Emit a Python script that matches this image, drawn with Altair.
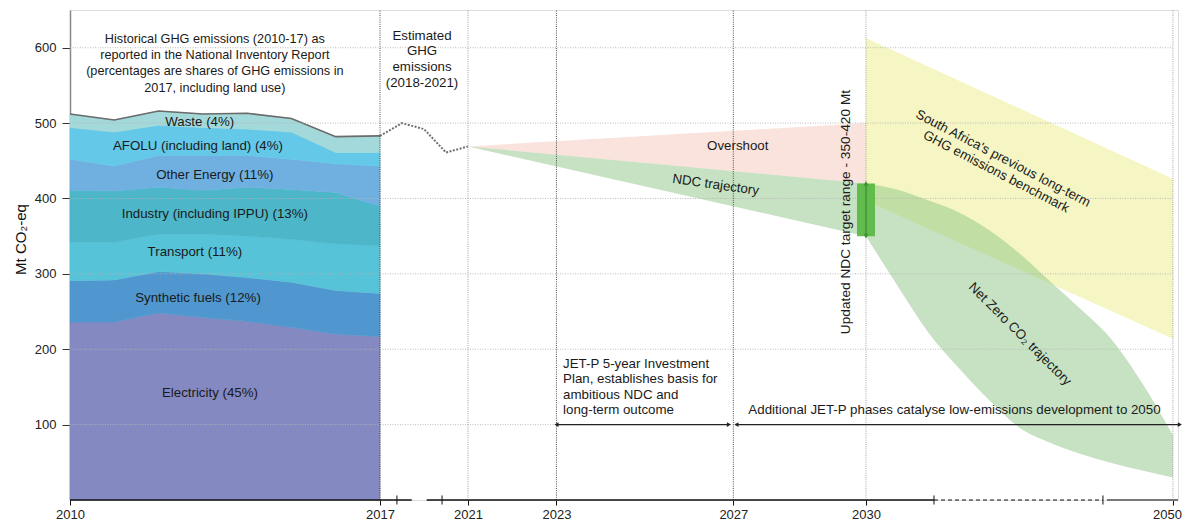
import altair as alt
import pandas as pd

# ---------------- data ----------------
hist_years = [2010, 2011, 2012, 2013, 2014, 2015, 2016, 2017]
sector_names = ["Electricity", "Synthetic fuels", "Transport", "Industry",
                "Other Energy", "AFOLU", "Waste"]
electricity = [236, 236, 248, 242, 237, 229, 220, 217]
synthetic_fuels = [55, 56, 55, 58, 58, 60, 58, 57]
transport = [51, 50, 50, 53, 55, 57, 62, 63]
industry = [69, 68, 62, 58, 65, 66, 68, 53]
other_energy = [41, 33, 42, 46, 42, 40, 38, 53]
afolu = [42, 45, 40, 37, 35, 36, 15, 18]
waste = [18, 16, 19, 18, 21, 18, 21, 22]
sector_colors = ["#8489c1", "#5097cf", "#57c3d8", "#4db6c9",
                 "#6fb0e0", "#64c8e8", "#a3d9da"]

sector_labels = ["Electricity (45%)", "Synthetic fuels (12%)", "Transport (11%)",
                 "Industry (including IPPU) (13%)", "Other Energy (11%)",
                 "AFOLU (including land) (4%)", "Waste (4%)"]
sector_label_x = [2013.16, 2012.89, 2012.82, 2013.27, 2013.27, 2012.89, 2012.93]
sector_label_y = [142, 268, 329, 380, 431, 469, 502]

est_years = [2017, 2018, 2019, 2020, 2021]
est_values = [483, 500, 492, 461, 469]

proj_years = [2021, 2030]
overshoot_low = [469, 420]
overshoot_high = [469, 500]
ndc_low = [469, 350]
ndc_high = [469, 420]

bench_years = [2030, 2050]
bench_low = [397, 214]
bench_high = [613, 426]

nz_years = [2030, 2032, 2034, 2036, 2038, 2040, 2042, 2044, 2046, 2048, 2050]
nz_low = [350, 286, 224, 176, 133, 96, 76, 61, 49, 39, 30]
nz_high = [420, 412, 398, 382, 358, 327, 290, 253, 213, 155, 86]

ndc_target_year = [2030]
ndc_target_low = [350]
ndc_target_high = [420]

x_ticks = [2010, 2017, 2021, 2023, 2027, 2030, 2050]
y_ticks = [100, 200, 300, 400, 500, 600]
dark_vlines = [2017, 2023, 2027]
light_vlines = [2021, 2030, 2050]
break_ticks = [2017.77, 2019.82, 2034.43, 2045.44]

# arrows at 100 Mt
arrow_start = [2023.0, 2027.07]
arrow_end = [2026.9, 2050.45]
arrow_level = [100, 100]

# ---------------- scales / axes ----------------
x_end = 2050.33
xs = alt.Scale(domain=[2010, 2017, 2021, 2030, x_end],
               range=[0, 310, 398, 796, 1108], zero=False, nice=False, padding=0)
ys = alt.Scale(domain=[0, 650], zero=False, nice=False, padding=0)

x_axis = alt.Axis(values=x_ticks, format="d", title=None, domain=False, grid=False,
                  tickColor="#111", tickSize=5, labelFontSize=13, labelColor="#222",
                  labelPadding=3, labelFlush=False,
                  labelOffset={"condition": {"test": "datum.value === 2050", "value": -6},
                               "value": 0})
y_axis = alt.Axis(values=y_ticks, title="Mt CO₂-eq", domainColor="#888",
                  domainWidth=1.5, grid=False, tickColor="#333", tickSize=8,
                  labelPadding=6, labelFontSize=13, labelColor="#222",
                  titleFontSize=15, titleFontWeight="normal", titleColor="#111",
                  titleX=-50, titleY=229, titleAngle=270, titleBaseline="middle",
                  titleAlign="center")


def X(f):
    return alt.X(f, type="quantitative", scale=xs, axis=x_axis)


def Y(f):
    return alt.Y(f, type="quantitative", scale=ys, axis=y_axis)


# ---------------- build tables ----------------
series = [electricity, synthetic_fuels, transport, industry, other_energy, afolu, waste]
rows = []
for i, (name, vals) in enumerate(zip(sector_names, series)):
    for yr, v in zip(hist_years, vals):
        rows.append({"year": yr, "sector": name, "idx": i, "value": v})
df_hist = pd.DataFrame(rows)

sec_scale = alt.Scale(domain=sector_names, range=sector_colors)
hist = alt.Chart(df_hist).mark_area(interpolate="linear", strokeWidth=0.6).encode(
    x=X("year"),
    y=alt.Y("value", type="quantitative", stack="zero", scale=ys, axis=y_axis),
    color=alt.Color("sector:N", scale=sec_scale, legend=None),
    stroke=alt.Stroke("sector:N", scale=sec_scale, legend=None),
    order=alt.Order("idx:Q"),
)

total_line = alt.Chart(df_hist).transform_aggregate(
    total="sum(value)", groupby=["year"]
).mark_line(color="#6b6b6b", strokeWidth=1.6).encode(x=X("year"), y=Y("total"))

est = alt.Chart(pd.DataFrame({"year": est_years, "v": est_values})).mark_line(
    color="#707070", strokeWidth=2, strokeDash=[2, 1.5]
).encode(x=X("year"), y=Y("v"))


def band(years, lo, hi, **kw):
    return alt.Chart(pd.DataFrame({"year": years, "lo": lo, "hi": hi})).mark_area(
        interpolate="monotone", **kw
    ).encode(x=X("year"), y=Y("lo"), y2=alt.Y2("hi"))


overshoot = band(proj_years, overshoot_low, overshoot_high, color="#fae3dd")
bench = band(bench_years, bench_low, bench_high, color="#f5f6c4")
ndc = band(proj_years, ndc_low, ndc_high, color="#8dc685", opacity=0.5)
netzero = band(nz_years, nz_low, nz_high, color="#8dc685", opacity=0.5)

df_box = pd.DataFrame({"year": ndc_target_year, "lo": ndc_target_low, "hi": ndc_target_high})
box = alt.Chart(df_box).mark_bar(size=18, color="#5cb947", opacity=0.95).encode(
    x=X("year"), y=Y("lo"), y2=alt.Y2("hi"))
box_arrow = alt.Chart(df_box).mark_rule(color="#3f9438", strokeWidth=1.5).encode(
    x=X("year"), y=Y("lo"), y2=alt.Y2("hi"))
box_head_up = alt.Chart(df_box).mark_point(shape="triangle-up", filled=True, size=28,
                                           color="#3f9438", opacity=1).encode(
    x=X("year"), y=Y("hi"))
box_head_dn = alt.Chart(df_box).mark_point(shape="triangle-down", filled=True, size=28,
                                           color="#3f9438", opacity=1).encode(
    x=X("year"), y=Y("lo"))

# grid
hgrid = alt.Chart(pd.DataFrame({"y": y_ticks, "x0": [2010] * 6, "x1": [2050] * 6})).mark_rule(
    color="#b5b5b5", strokeWidth=0.9, strokeDash=[1, 1.5]
).encode(y=Y("y"), x=X("x0"), x2=alt.X2("x1"))
vgrid_dark = alt.Chart(pd.DataFrame({"x": dark_vlines, "y0": [0] * 3, "y1": [650] * 3})).mark_rule(
    color="#3a3a3a", strokeWidth=0.9, strokeDash=[1, 1.2]
).encode(x=X("x"), y=Y("y0"), y2=alt.Y2("y1"))
vgrid_light = alt.Chart(pd.DataFrame({"x": light_vlines, "y0": [0] * 3, "y1": [650] * 3})).mark_rule(
    color="#9a9a9a", strokeWidth=0.9, strokeDash=[1, 1.2]
).encode(x=X("x"), y=Y("y0"), y2=alt.Y2("y1"))

# x axis baseline with breaks
df_solid = pd.DataFrame({"x0": [2010, 2019.12], "x1": [2018.44, 2034.43], "y": [0, 0]})
df_dash = pd.DataFrame({"x0": [2034.43], "x1": [2045.44], "y": [0]})
df_gray = pd.DataFrame({"x0": [2045.7], "x1": [x_end], "y": [0]})
base_solid = alt.Chart(df_solid).mark_rule(color="#111", strokeWidth=1.3).encode(
    x=X("x0"), x2=alt.X2("x1"), y=Y("y"))
base_dash = alt.Chart(df_dash).mark_rule(color="#111", strokeWidth=1.1, strokeDash=[4, 3]).encode(
    x=X("x0"), x2=alt.X2("x1"), y=Y("y"))
base_gray = alt.Chart(df_gray).mark_rule(color="#777", strokeWidth=2).encode(
    x=X("x0"), x2=alt.X2("x1"), y=Y("y"))
brk = alt.Chart(pd.DataFrame({"x": break_ticks, "y0": [-6] * 4, "y1": [6] * 4})).mark_rule(
    color="#111", strokeWidth=1).encode(x=X("x"), y=Y("y0"), y2=alt.Y2("y1"))

# arrows
df_arr = pd.DataFrame({"x0": arrow_start, "x1": arrow_end, "y": arrow_level})
arrows = alt.Chart(df_arr).mark_rule(color="#222", strokeWidth=1.1).encode(
    x=X("x0"), x2=alt.X2("x1"), y=Y("y"))
head_l = alt.Chart(df_arr).mark_point(shape="triangle-left", filled=True, size=22,
                                      color="#222", opacity=1).encode(x=X("x0"), y=Y("y"))
head_r = alt.Chart(df_arr).mark_point(shape="triangle-right", filled=True, size=22,
                                      color="#222", opacity=1).encode(x=X("x1"), y=Y("y"))


def txt(xv, yv, tv, **kw):
    props = dict(font="Liberation Sans", fontSize=13.3, color="#1a1a1a",
                 align="center", baseline="middle", lineBreak="\n")
    props.update(kw)
    return alt.Chart(pd.DataFrame({"x": xv, "y": yv, "t": tv})).mark_text(**props).encode(
        x=X("x"), y=Y("y"), text="t:N")


labels = txt(sector_label_x, sector_label_y, sector_labels)
t_hist = txt([2013.27], [612],
             ["Historical GHG emissions (2010-17) as\nreported in the National Inventory Report\n"
              "(percentages are shares of GHG emissions in\n2017, including land use)"],
             lineHeight=16.4, fontSize=12.7)
t_est = txt([2018.91], [616], ["Estimated\nGHG\nemissions\n(2018-2021)"], lineHeight=15.7)
t_over = txt([2027.1], [469], ["Overshoot"])
t_ndc = txt([2026.6], [418], ["NDC trajectory"], angle=8)
t_upd = txt([2029.55], [382], ["Updated NDC target range - 350-420 Mt"], angle=270, fontSize=13.7)
t_sa = txt([2038.93], [453], ["South Africa's previous long-term\nGHG emissions benchmark"],
           angle=27.5, lineHeight=15)
t_nz = txt([2040.03], [220], ["Net Zero CO₂ trajectory"], angle=45)
t_jet = txt([2023.15], [180], ["JET-P 5-year Investment\nPlan, establishes basis for\n"
                               "ambitious NDC and\nlong-term outcome"],
            align="left", lineHeight=15.2)
t_add = txt([2027.34], [120], ["Additional JET-P phases catalyse low-emissions development to 2050"],
            align="left")

chart = alt.layer(
    hist, total_line, est, overshoot, bench, ndc, netzero,
    hgrid, vgrid_light, vgrid_dark, box, box_arrow, box_head_up, box_head_dn,
    base_solid, base_dash, base_gray, brk, arrows, head_l, head_r,
    labels, t_hist, t_est, t_over, t_ndc, t_upd, t_sa, t_nz, t_jet, t_add,
).properties(
    width=1108, height=490,
    padding={"left": 62, "top": 2, "right": 6, "bottom": 20},
    autosize=alt.AutoSizeParams(type="none"),
).configure_view(stroke=None).configure(font="Liberation Sans")

chart.save("out.html", embed_options={"renderer": "svg", "actions": False})
